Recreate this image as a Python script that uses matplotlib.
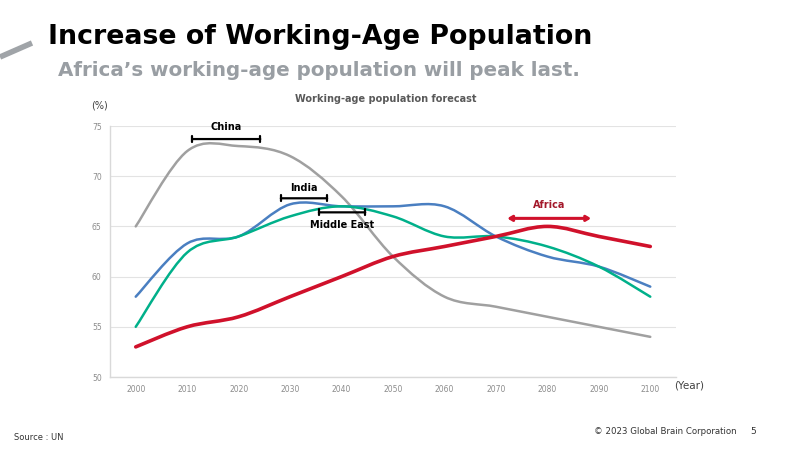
import numpy as np
import matplotlib
matplotlib.use("Agg")
import matplotlib.pyplot as plt
from matplotlib.path import Path
from matplotlib.patches import PathPatch

# data (UN forecast, %)
years = [2000, 2010, 2020, 2030, 2040, 2050, 2060, 2070, 2080, 2090, 2100]
china = [65, 72.5, 73, 72, 68, 62, 58, 57, 56, 55, 54]
india = [58, 63.3, 64, 67.2, 67, 67, 67, 64, 62, 61, 59]
middle_east = [55, 62.4, 64, 66, 67, 66, 64, 64, 63, 61, 58]
africa = [53, 55, 56, 58, 60, 62, 63, 64, 65, 64, 63]

yticks = [50, 55, 60, 65, 70, 75]


def smooth_path(xs, ys):
    # excel-like smoothed line: cubic bezier segments through every point
    xs = np.asarray(xs, float)
    ys = np.asarray(ys, float)
    n = len(xs)
    verts = [(xs[0], ys[0])]
    codes = [Path.MOVETO]
    for i in range(n - 1):
        p0 = (xs[max(i - 1, 0)], ys[max(i - 1, 0)])
        p1 = (xs[i], ys[i])
        p2 = (xs[i + 1], ys[i + 1])
        p3 = (xs[min(i + 2, n - 1)], ys[min(i + 2, n - 1)])
        c1 = (p1[0] + (p2[0] - p0[0]) / 6, p1[1] + (p2[1] - p0[1]) / 6)
        c2 = (p2[0] - (p3[0] - p1[0]) / 6, p2[1] - (p3[1] - p1[1]) / 6)
        verts += [c1, c2, p2]
        codes += [Path.CURVE4] * 3
    return Path(verts, codes)


fig = plt.figure(figsize=(8, 4.5), dpi=100)
fig.patch.set_facecolor("white")

ax = fig.add_axes([0.1375, 0.1622, 0.7075, 0.5578])

series = [(china, "#a0a0a0", 1.8), (india, "#4a7fc1", 1.8),
          (middle_east, "#00b08a", 1.8), (africa, "#d0112b", 2.6)]
for vals, col, lw in series:
    ax.add_patch(PathPatch(smooth_path(years, vals), facecolor="none",
                           edgecolor=col, lw=lw, capstyle="round", zorder=3))

ax.set_xlim(1995, 2105)
ax.set_ylim(50, 75)
ax.set_xticks(years)
ax.set_yticks(yticks)
ax.tick_params(length=0, labelsize=5.5, labelcolor="#8c8c8c", pad=6)
ax.grid(axis="y", color="#e3e3e3", lw=0.8)
ax.set_axisbelow(True)
for s in ["top", "right"]:
    ax.spines[s].set_visible(False)
for s in ["left", "bottom"]:
    ax.spines[s].set_color("#d9d9d9")
    ax.spines[s].set_linewidth(1)


# region labels with bars
def bar_label(x0, x1, y, text, ty, w=0.22):
    ax.annotate("", xy=(x0, y), xytext=(x1, y),
                arrowprops=dict(arrowstyle=f"|-|,widthA={w},widthB={w}",
                                color="black", lw=1.6, shrinkA=0, shrinkB=0))
    ax.text((x0 + x1) / 2, ty, text, ha="center", va="center", fontsize=7,
            fontweight="bold", color="black")


bar_label(2011, 2024.2, 73.7, "China", 74.9)
bar_label(2028.2, 2037.2, 67.8, "India", 68.8)
bar_label(2035.6, 2044.6, 66.4, "Middle East", 65.1)
ax.annotate("", xy=(2072.2, 65.8), xytext=(2088.5, 65.8),
            arrowprops=dict(arrowstyle="<->,head_length=0.25,head_width=0.15",
                            color="#d0112b", lw=2.2, shrinkA=0, shrinkB=0))
ax.text(2080.3, 67.1, "Africa", ha="center", va="center", fontsize=7,
        fontweight="bold", color="#a3182a")

# slide texts
fig.add_artist(plt.Line2D([0, 0.04], [1 - 57 / 450, 1 - 43 / 450],
                          color="#a0a4a8", lw=4, solid_capstyle="butt"))
fig.text(0.06, 1 - 37 / 450, "Increase of Working-Age Population",
         fontsize=19.3, fontweight="bold", color="black", va="center")
fig.text(0.0725, 1 - 70 / 450, "Africa\u2019s working-age population will peak last.",
         fontsize=14.3, fontweight="bold", color="#999ea3", va="center")
fig.text(0.4825, 1 - 99 / 450, "Working-age population forecast",
         fontsize=7, fontweight="bold", color="#595959", ha="center", va="center")
fig.text(0.125, 1 - 106 / 450, "(%)", fontsize=7, color="#404040",
         ha="center", va="center")
fig.text(0.843, 1 - 386 / 450, "(Year)", fontsize=7.5, color="#404040",
         va="center")
fig.text(0.017, 1 - 437 / 450, "Source : UN", fontsize=6, color="#333333",
         va="center")
fig.text(0.742, 1 - 432 / 450, "\u00a9 2023 Global Brain Corporation",
         fontsize=6.2, color="#333333", va="center")
fig.text(0.938, 1 - 432 / 450, "5", fontsize=6.5, color="#333333", va="center")

fig.savefig("out.png", dpi=100)
